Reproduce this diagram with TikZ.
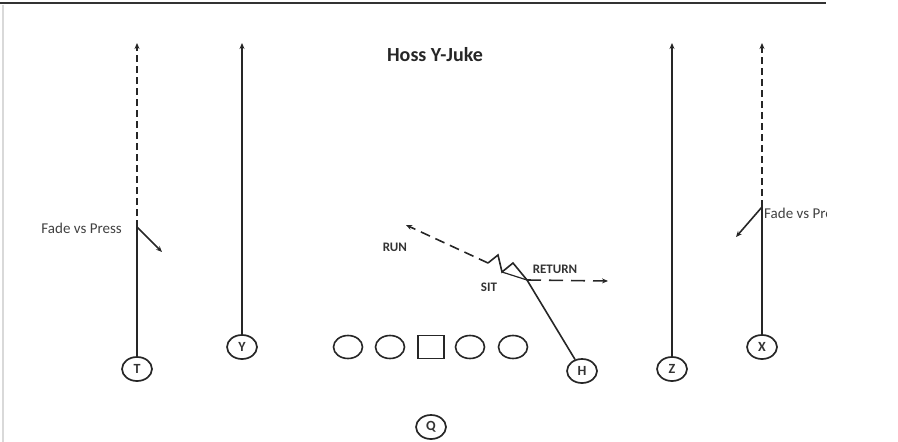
\documentclass[tikz,border=0pt]{standalone}
\usepackage{fontspec}
\setmainfont{Carlito}
\usetikzlibrary{arrows.meta,shapes.geometric}

\tikzset{
	player/.style={draw=black!85, ellipse, line width=1.7pt, minimum width=30pt, minimum height=24pt, inner sep=0pt, font=\fontsize{14}{14}\selectfont\bfseries, text=black!80},
	lineman/.style={draw=black!85, ellipse, line width=1.6pt, minimum width=29pt, minimum height=23pt, inner sep=0pt},
	centre/.style={draw=black!85, rectangle, line width=1.6pt, minimum width=26pt, minimum height=23pt, inner sep=0pt},
	route/.style={draw=black!85, line width=1.6pt, line join=miter},
	tip/.style={-{Stealth[length=6pt,width=5pt]}},
	fadedash/.style={dash pattern=on 7pt off 4pt},
	rundash/.style={dash pattern=on 10pt off 6pt},
	backdash/.style={dash pattern=on 14pt off 8pt},
	tag/.style={font=\fontsize{13}{13}\selectfont\bfseries, text=black!80},
	note/.style={font=\fontsize{15}{15}\selectfont, text=black!75, inner sep=1pt}
}

\begin{document}
\begin{tikzpicture}[x=1pt, y=-1pt] % Hoss Y-Juke
		\useasboundingbox (0,0) rectangle (898,442);
		\draw[line width=2pt, black!80] (0,3) -- (826,3);
		\draw[line width=2pt, black!15] (3,5) -- (3,442);

		\node[font=\fontsize{20}{20}\selectfont\bfseries, text=black!85] (title) at (435,55) {Hoss Y-Juke};

		% line
		\node[lineman] (lt) at (348,347) {};
		\node[lineman] (lg) at (390,347) {};
		\node[centre]  (c)  at (431,347) {};
		\node[lineman] (rg) at (470,347) {};
		\node[lineman] (rt) at (513,347) {};

		% skill players
		\node[player] (T) at (137,369) {T};
		\node[player] (Y) at (242,347) {Y};
		\node[player] (H) at (582,371) {H};
		\node[player] (Q) at (431,427) {Q};
		\node[player] (Z) at (672,369) {Z};
		\node[player] (X) at (762,347) {X};

		% T : fade vs press
		\coordinate (tbreak) at (137,227);
		\coordinate (tdeep) at (137,43);
		\coordinate (tout) at (162,252);
		\draw[route] (T) -- (tbreak);
		\draw[route, fadedash, tip] (tbreak) -- (tdeep);
		\draw[route, tip] (tbreak) -- (tout);
		\node[note, anchor=east] (tnote) at (123,228) {Fade vs Press};

		% Y and Z go
		\coordinate (ydeep) at (242,43);
		\coordinate (zdeep) at (672,43);
		\draw[route, tip] (Y) -- (ydeep);
		\draw[route, tip] (Z) -- (zdeep);

		% X : fade vs press
		\coordinate (xbreak) at (762,207);
		\coordinate (xdeep) at (762,43);
		\coordinate (xout) at (736,237);
		\draw[route] (X) -- (xbreak);
		\draw[route, fadedash, tip] (xbreak) -- (xdeep);
		\draw[route, tip] (xbreak) -- (xout);
		\begin{scope}
			\clip (0,0) rectangle (826,442);
			\node[note, anchor=west] (xnote) at (763,213) {Fade vs Press};
		\end{scope}

		% H : sit, run, return
		\coordinate (sit) at (527,280);
		\coordinate (z1) at (513,263);
		\coordinate (z2) at (502,272);
		\coordinate (z3) at (498,255);
		\coordinate (z4) at (488,263);
		\coordinate (runend) at (406,225);
		\coordinate (retend) at (608,281);
		\draw[route] (H) -- (sit) -- (z1) -- (z2) -- (z3) -- (z4);
		\draw[route, line width=1.2pt] (z2) -- (sit);
		\draw[route, rundash, tip] (z4) -- (runend);
		\draw[route, backdash, tip] (sit) -- (retend);
		\node[tag] (run) at (395,247) {RUN};
		\node[tag] (ret) at (555,269) {RETURN};
		\node[tag] (sitlbl) at (489,287) {SIT};
\end{tikzpicture}
\end{document}
